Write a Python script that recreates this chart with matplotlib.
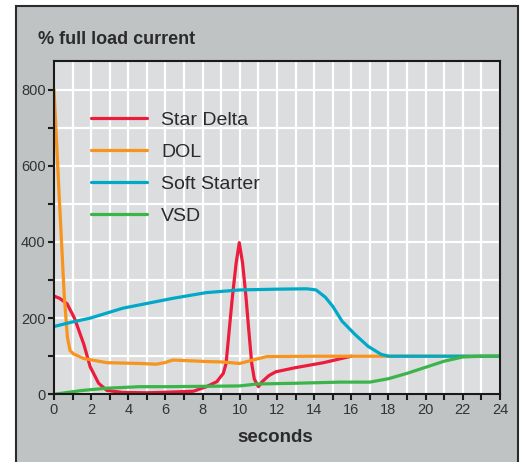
import matplotlib
matplotlib.use("Agg")
import matplotlib.pyplot as plt
from matplotlib.patches import Rectangle
from matplotlib.ticker import MultipleLocator

plt.rcParams['font.family'] = ['Liberation Sans Narrow', 'Liberation Sans', 'DejaVu Sans']

# readings (seconds, % full load current)
star_t = [0, 0.3, 0.7, 1.1, 1.6, 1.95, 2.4, 2.85, 3.7, 5, 6.4, 7.5, 8.2, 8.76, 9.11, 9.26, 9.43, 9.6,
          9.8, 9.97, 10.15, 10.33, 10.48, 10.64, 10.78, 11.0, 11.2, 11.56, 11.93, 13, 14.5, 16]
star_v = [258, 252, 238, 200, 132, 72, 29, 10, 5, 4, 6, 8, 20, 33, 55, 81, 169, 256,
          344, 398, 344, 256, 169, 81, 40, 20, 33, 49, 59, 70, 83, 100]

dol_t = [0, 0.3, 0.55, 0.72, 0.86, 1.05, 1.6, 2.5, 2.85, 4.6, 5.5, 5.95, 6.4, 8.2, 9.0, 10.0, 10.7,
         11.45, 14, 18, 24]
dol_v = [800, 500, 260, 150, 115, 106, 94, 86, 83, 81, 79, 83, 90, 86, 85, 81, 90,
         99, 100, 100, 100]

soft_t = [0, 1.0, 1.95, 3.7, 6.4, 8.2, 10, 12, 13.6, 14.1, 14.6, 15.0, 15.5, 16.2, 16.9, 17.6, 18, 24]
soft_v = [178, 190, 200, 226, 252, 267, 274, 276, 277, 274, 255, 231, 192, 157, 126, 105, 100, 100]

vsd_t = [0, 1.5, 2.85, 4.6, 6, 8.2, 10, 10.9, 13, 15.4, 17, 18, 19, 20, 21, 22, 23, 24]
vsd_v = [0, 10, 16, 20, 20, 21, 22, 27, 29, 32, 32, 41, 55, 71, 87, 98, 100, 100]

series = [
    ("Star Delta", star_t, star_v, "#ec1c3c"),
    ("DOL", dol_t, dol_v, "#f7941d"),
    ("Soft Starter", soft_t, soft_v, "#00a9c8"),
    ("VSD", vsd_t, vsd_v, "#3bb54a"),
]

fig = plt.figure(figsize=(5.29, 4.62), dpi=100)
fig.patch.set_facecolor("white")

# grey outer panel
panel = Rectangle((16 / 529, -0.05), 502 / 529, 1 - 6 / 462 + 0.05,
                  transform=fig.transFigure, facecolor="#c0c3c4",
                  edgecolor="#2b2b2b", lw=1.5, zorder=-10)
fig.patches.append(panel)

ax = fig.add_axes([54 / 529, 1 - 394.3 / 462, 446 / 529, 333.3 / 462])
ax.set_zorder(5)
ax.set_facecolor("#dcdddf")

for name, t, v, c in series:
    ax.plot(t, v, color=c, lw=2.3, label=name, solid_joinstyle="round", solid_capstyle="round")

ax.set_xlim(0, 24)
ax.set_ylim(0, 875)
ax.xaxis.set_major_locator(MultipleLocator(2))
ax.xaxis.set_minor_locator(MultipleLocator(1))
ax.yaxis.set_major_locator(MultipleLocator(200))
ax.yaxis.set_minor_locator(MultipleLocator(100))
ax.grid(which="both", color="white", lw=1.6)
ax.set_axisbelow(True)
ax.tick_params(which="both", direction="out", length=4, width=1.5, color="#1a1a1a",
               labelsize=10.5, labelcolor="#333333", pad=2)
for s in ax.spines.values():
    s.set_color("#1a1a1a")
    s.set_linewidth(1.5)

leg = ax.legend(loc="upper left", bbox_to_anchor=(0.083, 0.85), frameon=False,
                fontsize=14, handlelength=2.9, handletextpad=0.7, labelspacing=0.75,
                borderpad=0, borderaxespad=0)
for txt in leg.get_texts():
    txt.set_color("#2b2b2b")

fig.text(38 / 529, 1 - 40 / 462, "% full load current", fontsize=13, fontweight="bold",
         color="#2b2b2b", ha="left", va="center")
fig.text(275 / 529, 1 - 437 / 462, "seconds", fontsize=13.5, fontweight="bold",
         color="#2b2b2b", ha="center", va="center")

fig.savefig("out.png", dpi=100)
